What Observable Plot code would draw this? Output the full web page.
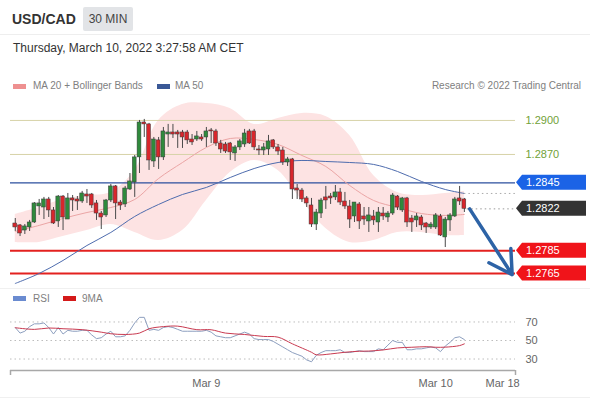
<!DOCTYPE html>
<html><head><meta charset="utf-8">
<script src="https://cdn.jsdelivr.net/npm/d3@7"></script>
<script src="https://cdn.jsdelivr.net/npm/@observablehq/plot@0.6"></script>
<style>
body{margin:0;background:#fff;font-family:"Liberation Sans",Arial,sans-serif;}
#root{position:relative;width:590px;height:400px;overflow:hidden;background:#fff;}
.abs{position:absolute;white-space:nowrap;}
.lg{font-size:10px;color:#808080;}
.sw{position:absolute;width:13px;height:5px;}
</style></head><body><div id="root">
<div class="abs" style="left:12px;top:11px;font-size:14px;font-weight:bold;color:#333">USD/CAD</div>
<div class="abs" style="left:83px;top:7px;width:50px;height:24px;background:#e2e4e7;border-radius:2px;font-size:12px;color:#444;line-height:24px;text-align:center">30 MIN</div>
<div class="abs" style="left:0;top:34px;width:590px;height:1px;background:#eeeeee"></div>
<div class="abs" style="left:13px;top:41px;font-size:12px;color:#333">Thursday, March 10, 2022 3:27:58 AM CET</div>
<div class="sw" style="left:13px;top:84px;background:#ee9090"></div>
<div class="abs lg" style="left:33px;top:80px">MA 20 + Bollinger Bands</div>
<div class="sw" style="left:157px;top:84px;background:#3a5896"></div>
<div class="abs lg" style="left:175px;top:80px">MA 50</div>
<div class="abs lg" style="right:9px;top:80px">Research © 2022 Trading Central</div>
<div id="main" class="abs" style="left:0;top:95px"></div>
<div class="abs" style="left:0;top:288px;width:590px;height:1px;background:#f0f0f0"></div>
<div class="sw" style="left:13px;top:296px;background:#6a8bd0"></div>
<div class="abs lg" style="left:33px;top:293px">RSI</div>
<div class="sw" style="left:63px;top:296px;background:#d41a1a"></div>
<div class="abs lg" style="left:82px;top:293px">9MA</div>
<div id="rsi" class="abs" style="left:0;top:300px"></div>
<div class="abs" style="left:0;top:397px;width:590px;height:1px;background:#f0f0f0"></div>
</div>
<script>
// ---- candles (30 min, Mar 8 ~04:00 to Mar 10 03:00 CET) ----
const open = [1.28091,1.28074,1.28029,1.28056,1.28100,1.28241,1.28232,1.28303,1.28206,1.28109,
1.28329,1.28126,1.28312,1.28303,1.28285,1.28347,1.28347,1.28268,1.28179,1.28162,
1.28294,1.28418,1.28276,1.28259,1.28391,1.28453,1.28674,1.28982,1.28965,1.28638,
1.28824,1.28674,1.28876,1.28894,1.28894,1.28894,1.28894,1.28832,1.28832,1.28850,
1.28850,1.28912,1.28903,1.28797,1.28788,1.28797,1.28709,1.28762,1.28788,1.28903,
1.28903,1.28744,1.28735,1.28744,1.28824,1.28762,1.28735,1.28629,1.28656,1.28400,
1.28382,1.28312,1.28250,1.28082,1.28179,1.28321,1.28329,1.28321,1.28365,1.28285,
1.28241,1.28153,1.28259,1.28153,1.28109,1.28153,1.28100,1.28179,1.28144,1.28179,
1.28329,1.28206,1.28312,1.28135,1.28118,1.28144,1.28091,1.28056,1.28056,1.28153,
1.27968,1.28118,1.28153,1.28312,1.28303];
const high = [1.28135,1.28082,1.28082,1.28118,1.28276,1.28303,1.28321,1.28321,1.28232,1.28338,
1.28338,1.28356,1.28338,1.28329,1.28374,1.28391,1.28356,1.28294,1.28197,1.28303,
1.28435,1.28426,1.28294,1.28418,1.28532,1.28691,1.29000,1.29009,1.28974,1.28850,
1.28850,1.28938,1.28965,1.28965,1.28912,1.28912,1.28912,1.28876,1.28903,1.28876,
1.28938,1.28929,1.28921,1.28824,1.28806,1.28806,1.28779,1.28832,1.28921,1.28921,
1.28921,1.28779,1.28797,1.28868,1.28832,1.28788,1.28762,1.28674,1.28665,1.28435,
1.28400,1.28329,1.28312,1.28215,1.28312,1.28418,1.28356,1.28426,1.28400,1.28365,
1.28294,1.28276,1.28276,1.28232,1.28232,1.28206,1.28232,1.28232,1.28197,1.28356,
1.28338,1.28321,1.28321,1.28162,1.28179,1.28162,1.28100,1.28100,1.28179,1.28171,
1.28144,1.28179,1.28321,1.28418,1.28312];
const low = [1.28021,1.27976,1.27994,1.28021,1.28091,1.28162,1.28126,1.28144,1.28082,1.28056,
1.28029,1.28126,1.28197,1.28206,1.28268,1.28268,1.28224,1.28118,1.28038,1.28144,
1.28276,1.28126,1.28206,1.28232,1.28382,1.28321,1.28532,1.28850,1.28559,1.28585,
1.28568,1.28647,1.28762,1.28841,1.28753,1.28753,1.28788,1.28779,1.28815,1.28815,
1.28762,1.28797,1.28771,1.28709,1.28709,1.28647,1.28638,1.28735,1.28762,1.28788,
1.28735,1.28691,1.28691,1.28691,1.28744,1.28691,1.28603,1.28594,1.28303,1.28303,
1.28276,1.28232,1.28056,1.28029,1.28135,1.28215,1.28259,1.28294,1.28250,1.28215,
1.28047,1.28100,1.28038,1.28074,1.28012,1.28074,1.28012,1.28118,1.28100,1.28162,
1.28206,1.28188,1.28056,1.28012,1.28056,1.28029,1.28003,1.28038,1.28038,1.27976,
1.27879,1.28021,1.28144,1.28250,1.28188];
const close = [1.28056,1.28003,1.28065,1.28100,1.28268,1.28268,1.28303,1.28206,1.28091,1.28329,
1.28144,1.28312,1.28294,1.28285,1.28356,1.28329,1.28250,1.28179,1.28144,1.28294,
1.28418,1.28268,1.28250,1.28400,1.28462,1.28674,1.28982,1.28965,1.28647,1.28832,
1.28674,1.28903,1.28894,1.28876,1.28876,1.28850,1.28824,1.28806,1.28859,1.28832,
1.28903,1.28903,1.28797,1.28744,1.28726,1.28718,1.28762,1.28815,1.28885,1.28797,
1.28762,1.28735,1.28762,1.28815,1.28762,1.28726,1.28629,1.28656,1.28391,1.28382,
1.28303,1.28268,1.28082,1.28188,1.28294,1.28294,1.28312,1.28365,1.28276,1.28241,
1.28126,1.28276,1.28109,1.28126,1.28162,1.28118,1.28188,1.28153,1.28179,1.28338,
1.28232,1.28312,1.28100,1.28100,1.28153,1.28074,1.28056,1.28082,1.28162,1.27985,
1.28126,1.28162,1.28303,1.28285,1.28220];

const indIdx   = [0,5,10,15,20,25,30,35,40,45,50,55,60,65,70,75,80,85,90,94];
const ma20     = [1.28021,1.28074,1.28135,1.28188,1.28232,1.28303,1.28488,1.28629,1.28762,1.28841,1.28832,1.28788,1.28691,1.28594,1.28426,1.28294,1.28232,1.28179,1.28162,1.28171];
const bbUpper  = [1.28171,1.28232,1.28303,1.28338,1.28365,1.28559,1.29000,1.29141,1.29150,1.29106,1.28965,1.29018,1.29062,1.29035,1.28868,1.28515,1.28365,1.28338,1.28356,1.28374];
const bbLower  = [1.27924,1.27924,1.27976,1.28029,1.28082,1.28012,1.27941,1.28029,1.28294,1.28541,1.28647,1.28559,1.28294,1.28047,1.27924,1.27941,1.28012,1.28012,1.27985,1.27985];
const ma50     = [1.27562,1.27650,1.27765,1.27897,1.28012,1.28153,1.28259,1.28347,1.28409,1.28497,1.28576,1.28629,1.28647,1.28638,1.28629,1.28612,1.28550,1.28462,1.28391,1.28356];

// ---- levels ----
const greenLevels = [1.2900, 1.2870];
const blueLevel = 1.2845;
const lastPrice = 1.2822;
const redLevels = [1.2785, 1.2765];
const arrowFrom = {i: 95.1, p: 1.2822};
const arrowTo = {i: 104.0, p: 1.2764};

// ---- RSI ----
const rsi = [64,58,60,65,68,68,69,64,57,64,57,61,60,60,61,61,56,52,53,57,
60,54,54,55,61,69,75,75,61,62,61,64,65,64,62,60,60,60,60,60,
61,59,55,54,53,53,55,57,59,57,52,51,51,51,49,46,43,40,37,35,
33,29,27,34,37,39,39,39,40,37,37,38,39,38,38,38,41,40,45,50,
48,48,40,40,41,41,42,43,42,38,44,48,53,54,51];
const ma9Idx = [0,4,7,10,14,18,20,23,26,28,31,34,38,41,44,48,52,55,58,62,63,66,69,72,74,77,80,83,86,88,90,93,94];
const ma9Val = [63.8,62,63.5,62.7,61.7,59,57.3,56.5,58,62.7,65,65.5,61.7,61.6,58,56.5,54.4,53.6,46.4,37.3,34.6,35.5,37.3,38.4,38.6,39.8,42,42.7,43.3,42.7,42.8,44.5,46.4];
const rsiLevels = [70, 50, 30];

// ---- x axis ----
const tickIdx = [40, 88, 102];
const tickLabels = ["Mar 9", "Mar 10", "Mar 18"];

const candles = open.map((o, i) => ({i, open: o, high: high[i], low: low[i], close: close[i]}));
const ind = indIdx.map((i, k) => ({i, ma20: ma20[k], up: bbUpper[k], lo: bbLower[k], ma50: ma50[k]}));
const rsiData = rsi.map((v, i) => ({i, v}));
const ma9Data = ma9Idx.map((i, k) => ({i, v: ma9Val[k]}));

const xDomain = [-1, 104.7];
const FONT = "Liberation Sans, Arial, sans-serif";
const GREEN = "#2f8a3c", RED = "#d8262c";

const main = Plot.plot({
  width: 590, height: 195,
  marginLeft: 10, marginRight: 75, marginTop: 5, marginBottom: 5,
  x: {domain: xDomain, axis: null},
  y: {domain: [1.27544, 1.29176], axis: null},
  style: {fontFamily: FONT, background: "transparent", overflow: "visible"},
  marks: [
    Plot.areaY(ind, {x: "i", y1: "lo", y2: "up", fill: "#fde3e3", curve: "catmull-rom", clip: true}),
    Plot.ruleY(greenLevels, {stroke: "#d7d3a8", strokeWidth: 1}),
    Plot.ruleY([blueLevel], {stroke: "#2b4f9e", strokeWidth: 1.3}),
    Plot.ruleY(redLevels, {stroke: "#e3211f", strokeWidth: 2}),
    Plot.line(ind, {x: "i", y: "ma20", stroke: "#eba5a5", strokeWidth: 1, curve: "catmull-rom"}),
    Plot.line(ind, {x: "i", y: "ma50", stroke: "#4e6cae", strokeWidth: 1, curve: "catmull-rom", clip: true}),
    Plot.ruleY([ma50[ma50.length - 1]], {x1: indIdx[indIdx.length - 1], x2: xDomain[1], stroke: "#aaa", strokeDasharray: "1.5,3"}),
    Plot.ruleY([lastPrice], {x1: candles.length - 0.4, x2: xDomain[1], stroke: "#999", strokeDasharray: "1.5,3"}),
    Plot.ruleX(candles, {x: "i", y1: "low", y2: "high", stroke: "#4a4a4a", strokeWidth: 1}),
    Plot.rect(candles, {x1: d => d.i - 0.4, x2: d => d.i + 0.4, y1: "open", y2: "close",
      fill: d => d.close >= d.open ? GREEN : RED, stroke: "#3a3a3a", strokeWidth: 0.5}),
    Plot.text(greenLevels, {x: xDomain[1], y: d => d, text: d => d.toFixed(4), dx: 10, textAnchor: "start", fill: "#72a238", fontSize: 11}),
    Plot.arrow([{a: arrowFrom, b: arrowTo}], {x1: d => d.a.i, y1: d => d.a.p, x2: d => d.b.i, y2: d => d.b.p,
      stroke: "#2d63a6", strokeWidth: 3.5, headLength: 14, headAngle: 60})
  ]
});
document.getElementById("main").appendChild(main);

// price tags on the right, positioned through the plot's own scales
const ys = main.scale("y"), xs = main.scale("x");
const svg = d3.select(main);
const tipX = xs.apply(xDomain[1]) + 1;
function tag(v, fill) {
  const y = ys.apply(v), h = 7.5;
  svg.append("path")
    .attr("d", `M${tipX},${y}L${tipX + 6},${y - h}L586,${y - h}L586,${y + h}L${tipX + 6},${y + h}Z`)
    .attr("fill", fill);
  svg.append("text").attr("x", tipX + 10).attr("y", y).attr("dy", "0.36em")
    .attr("text-anchor", "start")
    .attr("fill", "#fff").attr("font-size", 11).attr("font-family", FONT).text(v.toFixed(4));
}
tag(blueLevel, "#1b63e6");
tag(lastPrice, "#333333");
redLevels.forEach(v => tag(v, "#f0141a"));

const rsiMin = 17.6;
const rsiPlot = Plot.plot({
  width: 590, height: 100,
  marginLeft: 10, marginRight: 75, marginTop: 10, marginBottom: 30,
  x: {domain: xDomain, axis: null},
  y: {domain: [rsiMin, 82.4], axis: null},
  style: {fontFamily: FONT, background: "transparent", overflow: "visible"},
  marks: [
    Plot.ruleY(rsiLevels, {stroke: "#bdbdbd", strokeDasharray: "1.5,3"}),
    Plot.line(rsiData, {x: "i", y: "v", stroke: "#8d9fbf", strokeWidth: 1}),
    Plot.line(ma9Data, {x: "i", y: "v", stroke: "#c93a50", strokeWidth: 1, curve: "catmull-rom"}),
    Plot.text(rsiLevels, {x: xDomain[1], y: d => d, text: d => String(d), dx: 10, textAnchor: "start", fill: "#666", fontSize: 11}),
    Plot.ruleY([rsiMin], {stroke: "#a8a8a8", strokeWidth: 1.5}),
    Plot.ruleX(xDomain, {y1: rsiMin, y2: rsiMin - 5.4, stroke: "#a8a8a8", strokeWidth: 1.5}),
    Plot.text(tickIdx, {x: d => d, y: rsiMin, text: (d, k) => tickLabels[k], dy: 13, fill: "#666", fontSize: 11})
  ]
});
document.getElementById("rsi").appendChild(rsiPlot);
</script>
</body></html>
